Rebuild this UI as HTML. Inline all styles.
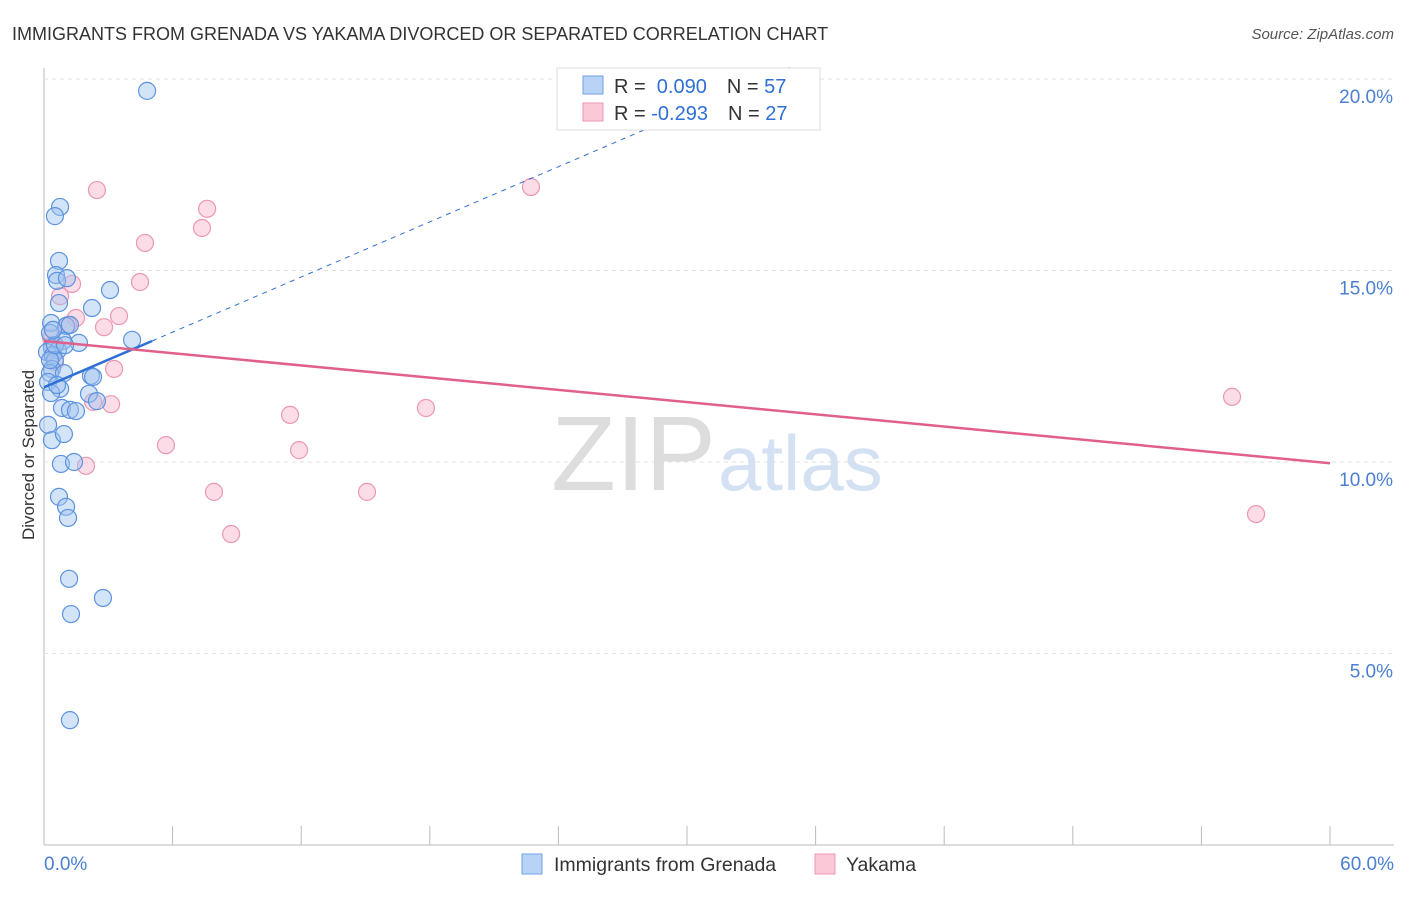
<!DOCTYPE html>
<html><head><meta charset="utf-8"><style>
body{margin:0;background:#fff;font-family:"Liberation Sans",sans-serif;}
svg text{font-family:"Liberation Sans",sans-serif;}
</style></head><body>
<svg width="1406" height="892" viewBox="0 0 1406 892">
<text x="12" y="40" font-size="18" fill="#333">IMMIGRANTS FROM GRENADA VS YAKAMA DIVORCED OR SEPARATED CORRELATION CHART</text>
<text x="1394" y="39" font-size="15" fill="#555" text-anchor="end" font-style="italic">Source: ZipAtlas.com</text>
<g id="grid"></g>
<text x="716" y="490" font-size="106" fill="#ddd" text-anchor="end" font-family="Liberation Serif">ZIP</text>
<text x="718" y="490" font-size="78" fill="#d3e1f3">atlas</text>
<text transform="translate(34,455) rotate(-90)" font-size="17" fill="#333" text-anchor="middle">Divorced or Separated</text>
<g id="pts"></g>
<g id="trend"></g>
<g>
<rect x="557" y="68" width="263" height="62" fill="#fff" stroke="#ddd"/>
<rect x="583" y="76" width="20" height="18" fill="#b9d3f6" stroke="#6fa0e6"/>
<rect x="583" y="103" width="20" height="18" fill="#fbc8d8" stroke="#eb97b3"/>
<text x="614" y="93" font-size="20" fill="#333">R = <tspan fill="#2f6fd6">&#160;0.090</tspan><tspan dx="20">N = </tspan><tspan fill="#2f6fd6">57</tspan></text>
<text x="614" y="120" font-size="20" fill="#333">R = <tspan fill="#2f6fd6">-0.293</tspan><tspan dx="20">N = </tspan><tspan fill="#2f6fd6">27</tspan></text>
</g>
<g>
<rect x="522" y="854" width="20" height="20" fill="#b9d3f6" stroke="#6fa0e6"/>
<text x="554" y="871" font-size="19.5" fill="#333">Immigrants from Grenada</text>
<rect x="815" y="854" width="20" height="20" fill="#fbc8d8" stroke="#eb97b3"/>
<text x="846" y="871" font-size="19.5" fill="#333">Yakama</text>
</g>
</svg>
<script>
const xTicks=[0,6,12,18,24,30,36,42,48,54,60];
const yTicks=[5,10,15,20];
const blueX=[4.81,0.75,0.51,0.70,0.56,0.61,1.07,0.70,3.08,2.24,0.33,1.03,1.21,0.28,0.89,1.63,4.11,0.37,0.65,0.14,0.42,0.51,0.37,0.28,0.93,2.19,2.29,0.19,0.75,0.33,2.10,2.47,0.84,1.21,1.49,0.19,0.37,0.93,0.79,1.40,0.70,1.03,1.12,1.17,2.75,1.26,1.21,0.28,0.51,0.61,0.98,0.42];
const blueY=[19.69,16.66,16.42,15.25,14.88,14.73,14.80,14.15,14.49,14.02,13.63,13.55,13.58,13.37,13.16,13.11,13.19,12.98,12.92,12.87,12.79,12.66,12.43,12.32,12.32,12.25,12.22,12.09,11.91,11.80,11.78,11.59,11.41,11.36,11.33,10.97,10.57,10.73,9.95,10.00,9.09,8.83,8.54,6.95,6.45,6.03,3.26,12.66,13.05,12.01,13.05,13.45];
const pinkX=[2.47,22.72,7.61,7.37,4.71,4.48,1.31,0.75,1.49,3.50,2.80,1.12,0.33,0.51,3.27,2.29,3.13,11.48,17.82,55.43,5.69,11.90,1.96,7.93,15.07,8.73,56.55,0.37];
const pinkY=[17.10,17.18,16.61,16.11,15.72,14.70,14.65,14.33,13.76,13.81,13.52,13.58,13.24,12.61,12.43,11.57,11.51,11.23,11.41,11.70,10.44,10.31,9.90,9.22,9.22,8.12,8.64,13.05];
const blueTrend=[11.95,0.24];
const pinkTrend=[13.16,-0.0532];
const X=v=>44+v/60*1286, Y=v=>845-v*38.3;
const NS="http://www.w3.org/2000/svg";
function mk(t,a,p){const e=document.createElementNS(NS,t);for(const k in a)e.setAttribute(k,a[k]);p.appendChild(e);return e;}
const g=document.getElementById('grid');
mk('line',{x1:44,y1:68,x2:44,y2:845,stroke:'#bbb'},g);
mk('line',{x1:44,y1:845,x2:1394,y2:845,stroke:'#bbb'},g);
yTicks.forEach(v=>{const l=mk('line',{x1:44,y1:Y(v),x2:1394,y2:Y(v),stroke:'#e2e2e2','stroke-dasharray':'4,4'},g);


const t=mk('text',{x:1393,y:Y(v)+24,'font-size':19,fill:'#4a7fd4','text-anchor':'end'},g);t.textContent=v.toFixed(1)+'%';

});
xTicks.forEach(v=>{const l=mk('line',{x1:X(v),y1:826,x2:X(v),y2:845,stroke:'#bbb'},g);

});
[[0,'0.0%',44,'start'],[60,'60.0%',1394,'end']].forEach(a=>{const t=mk('text',{x:a[2],y:870,'font-size':19,fill:'#4a7fd4','text-anchor':a[3]},g);t.textContent=a[1];

});
const tr=document.getElementById('trend');
const bl=mk('line',{x1:X(0),y1:Y(blueTrend[0]),x2:X(5.04),y2:Y(blueTrend[0]+blueTrend[1]*5.04),stroke:'#2f6fd6','stroke-width':2.5},tr);


const xe=(20.3-blueTrend[0])/blueTrend[1];
const bd=mk('line',{x1:X(5.04),y1:Y(blueTrend[0]+blueTrend[1]*5.04),x2:X(xe),y2:Y(20.3),stroke:'#2f6fd6','stroke-width':1,'stroke-dasharray':'5,5'},tr);


const pl=mk('line',{x1:X(0),y1:Y(pinkTrend[0]),x2:X(60),y2:Y(pinkTrend[0]+pinkTrend[1]*60),stroke:'#e0608a','stroke-width':2.5},tr);


const p=document.getElementById('pts');
pinkX.forEach((v,i)=>{const c=mk('circle',{cx:X(v),cy:Y(pinkY[i]),r:8.5,fill:'rgba(248,180,202,0.45)',stroke:'#eb97b3','stroke-width':1.2},p);

});
blueX.forEach((v,i)=>{const c=mk('circle',{cx:X(v),cy:Y(blueY[i]),r:8.5,fill:'rgba(160,196,240,0.45)',stroke:'#5b93e0','stroke-width':1.2},p);

});
</script>
</body></html>
